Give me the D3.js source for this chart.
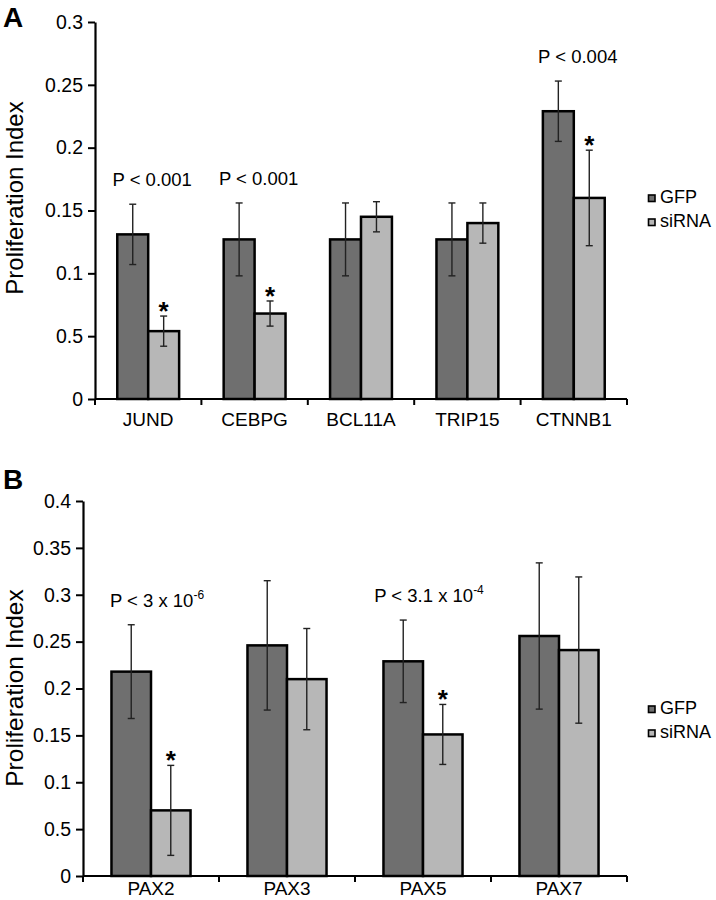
<!DOCTYPE html>
<html>
<head>
<meta charset="utf-8">
<script src="https://cdn.jsdelivr.net/npm/d3@7"></script>
<style>
  html, body { margin: 0; padding: 0; background: #fff; }
  svg text { font-family: "Liberation Sans", Arial, sans-serif; fill: #000; }
</style>
</head>
<body>
<svg id="chart" width="716" height="900"></svg>
<script>
// ---------- DATA ----------
const series = ["GFP", "siRNA"];

const categoriesA = ["JUND", "CEBPG", "BCL11A", "TRIP15", "CTNNB1"];
const gfpA      = [0.131, 0.127, 0.127, 0.127, 0.229];
const gfpErrA   = [0.024, 0.029, 0.029, 0.029, 0.024];
const sirnaA    = [0.054, 0.068, 0.145, 0.140, 0.160];
const sirnaErrA = [0.012, 0.010, 0.012, 0.016, 0.038];
const tickValuesA = [0, 0.05, 0.1, 0.15, 0.2, 0.25, 0.3];
const tickLabelsA = ["0", "0.5", "0.1", "0.15", "0.2", "0.25", "0.3"];
const pLabelsA = [
  { cat: "JUND",   text: "P < 0.001", sup: "" },
  { cat: "CEBPG",  text: "P < 0.001", sup: "" },
  { cat: "CTNNB1", text: "P < 0.004", sup: "" }
];
const starsA = ["JUND", "CEBPG", "CTNNB1"];

const categoriesB = ["PAX2", "PAX3", "PAX5", "PAX7"];
const gfpB      = [0.218, 0.246, 0.229, 0.256];
const gfpErrB   = [0.050, 0.069, 0.044, 0.078];
const sirnaB    = [0.070, 0.210, 0.151, 0.241];
const sirnaErrB = [0.048, 0.054, 0.032, 0.078];
const tickValuesB = [0, 0.05, 0.1, 0.15, 0.2, 0.25, 0.3, 0.35, 0.4];
const tickLabelsB = ["0", "0.5", "0.1", "0.15", "0.2", "0.25", "0.3", "0.35", "0.4"];
const pLabelsB = [
  { cat: "PAX2", text: "P < 3 x 10", sup: "-6" },
  { cat: "PAX5", text: "P < 3.1 x 10", sup: "-4" }
];
const starsB = ["PAX2", "PAX5"];

const yTitle = "Proliferation Index";

// ---------- DRAW ----------
const svg = d3.select("#chart");
const colors = { GFP: "#6f6f6f", siRNA: "#b7b7b7" };

function drawPanel(opt) {
  const g = svg.append("g");
  const x = d3.scaleBand().domain(opt.categories).range([opt.left, opt.right]).padding(0);
  const x1 = d3.scaleBand().domain(series).range([0, x.bandwidth()]).paddingInner(0).paddingOuter(0.72);
  const y = d3.scaleLinear().domain([0, opt.yMax]).range([opt.bottom, opt.top]);

  const rows = opt.categories.map((c, i) => ({
    cat: c,
    vals: [
      { s: "GFP", v: opt.gfp[i], e: opt.gfpErr[i] },
      { s: "siRNA", v: opt.sirna[i], e: opt.sirnaErr[i] }
    ]
  }));

  // bars
  const grp = g.selectAll("g.grp").data(rows).join("g")
    .attr("transform", d => `translate(${x(d.cat)},0)`);
  grp.selectAll("rect").data(d => d.vals).join("rect")
    .attr("x", d => x1(d.s))
    .attr("y", d => y(d.v))
    .attr("width", x1.bandwidth())
    .attr("height", d => y(0) - y(d.v))
    .attr("fill", d => colors[d.s])
    .attr("stroke", "#000")
    .attr("stroke-width", 2.5);

  // error bars
  const eb = grp.selectAll("g.eb").data(d => d.vals).join("g")
    .attr("stroke", "#222").attr("stroke-width", 1.4);
  const cx = d => x1(d.s) + x1.bandwidth() / 2;
  eb.append("line")
    .attr("x1", cx).attr("x2", cx)
    .attr("y1", d => y(d.v + d.e)).attr("y2", d => y(d.v - d.e));
  eb.append("line")
    .attr("x1", d => cx(d) - 3.5).attr("x2", d => cx(d) + 3.5)
    .attr("y1", d => y(d.v + d.e)).attr("y2", d => y(d.v + d.e));
  eb.append("line")
    .attr("x1", d => cx(d) - 3.5).attr("x2", d => cx(d) + 3.5)
    .attr("y1", d => y(d.v - d.e)).attr("y2", d => y(d.v - d.e));

  // y axis
  const yAxis = d3.axisLeft(y).tickValues(opt.tickValues)
    .tickFormat((d, i) => opt.tickLabels[i]).tickSize(7).tickPadding(5).tickSizeOuter(0);
  const ya = g.append("g").attr("transform", `translate(${opt.left},0)`).call(yAxis);
  ya.select(".domain").attr("stroke", "#000").attr("stroke-width", 2.2);
  ya.selectAll(".tick line").attr("stroke", "#000").attr("stroke-width", 2);
  ya.selectAll(".tick text").attr("font-size", 19.5).attr("fill", "#000")
    .style("font-family", "'Liberation Sans', Arial, sans-serif");

  // x axis
  const xa = g.append("g").attr("transform", `translate(0,${opt.bottom})`);
  xa.append("line").attr("x1", opt.left).attr("x2", opt.right)
    .attr("stroke", "#000").attr("stroke-width", 2.2);
  const bounds = opt.categories.map(c => x(c)).concat([opt.right]);
  xa.selectAll("line.tk").data(bounds).join("line").attr("class", "tk")
    .attr("x1", d => d).attr("x2", d => d).attr("y1", 0).attr("y2", 6)
    .attr("stroke", "#000").attr("stroke-width", 2);
  xa.selectAll("text").data(opt.categories).join("text")
    .attr("x", d => x(d) + x.bandwidth() / 2)
    .attr("y", opt.xLabelOffset)
    .attr("text-anchor", "middle")
    .attr("font-size", 19)
    .text(d => d);

  // p-value labels
  pLabelsPlace(g, opt.pLabels, rows, x, y, opt.pShift);

  // stars
  g.selectAll("text.star").data(opt.stars).join("text").attr("class", "star")
    .attr("x", c => x(c) + x1("siRNA") + x1.bandwidth() / 2)
    .attr("y", c => {
      const r = rows.find(rr => rr.cat === c).vals[1];
      return y(r.v + r.e) + 4;
    })
    .attr("text-anchor", "middle")
    .attr("font-size", 26)
    .attr("font-weight", "bold")
    .text("*");

  // y title
  g.append("text")
    .attr("transform", `translate(23,${opt.titleY}) rotate(-90)`)
    .attr("text-anchor", "middle")
    .attr("font-size", opt.titleSize)
    .text(yTitle);

  // panel letter
  g.append("text").attr("x", 3).attr("y", opt.letterY)
    .attr("font-size", 28).attr("font-weight", "bold").text(opt.letter);

  // legend
  const lg = g.append("g");
  series.forEach((s, i) => {
    const by = opt.legendY + i * 24;
    lg.append("rect").attr("x", 648.5).attr("y", by - 8).attr("width", 6.5).attr("height", 6.5)
      .attr("fill", colors[s]).attr("stroke", "#000").attr("stroke-width", 1.6);
    lg.append("text").attr("x", 660).attr("y", by).attr("font-size", 18).text(s);
  });
}

function pLabelsPlace(g, labels, rows, x, y, shift) {
  labels.forEach(l => {
    const r = rows.find(rr => rr.cat === l.cat).vals[0];
    const t = g.append("text")
      .attr("x", x(l.cat) + x.bandwidth() / 2 + shift)
      .attr("y", y(r.v + r.e) - 18)
      .attr("text-anchor", "middle")
      .attr("font-size", 18.5);
    t.append("tspan").text(l.text);
    if (l.sup) {
      t.append("tspan").attr("dy", -8).attr("font-size", 12).text(l.sup);
    }
  });
}

drawPanel({
  categories: categoriesA, gfp: gfpA, gfpErr: gfpErrA, sirna: sirnaA, sirnaErr: sirnaErrA,
  tickValues: tickValuesA, tickLabels: tickLabelsA, yMax: 0.3,
  left: 95, right: 627, top: 22, bottom: 399,
  xLabelOffset: 27, pLabels: pLabelsA, stars: starsA, pShift: 4,
  titleY: 198, titleSize: 24, letter: "A", letterY: 27, legendY: 203
});

drawPanel({
  categories: categoriesB, gfp: gfpB, gfpErr: gfpErrB, sirna: sirnaB, sirnaErr: sirnaErrB,
  tickValues: tickValuesB, tickLabels: tickLabelsB, yMax: 0.4,
  left: 83, right: 627, top: 501, bottom: 876,
  xLabelOffset: 19, pLabels: pLabelsB, stars: starsB, pShift: 6,
  titleY: 688, titleSize: 24.5, letter: "B", letterY: 489, legendY: 714
});
</script>
</body>
</html>
